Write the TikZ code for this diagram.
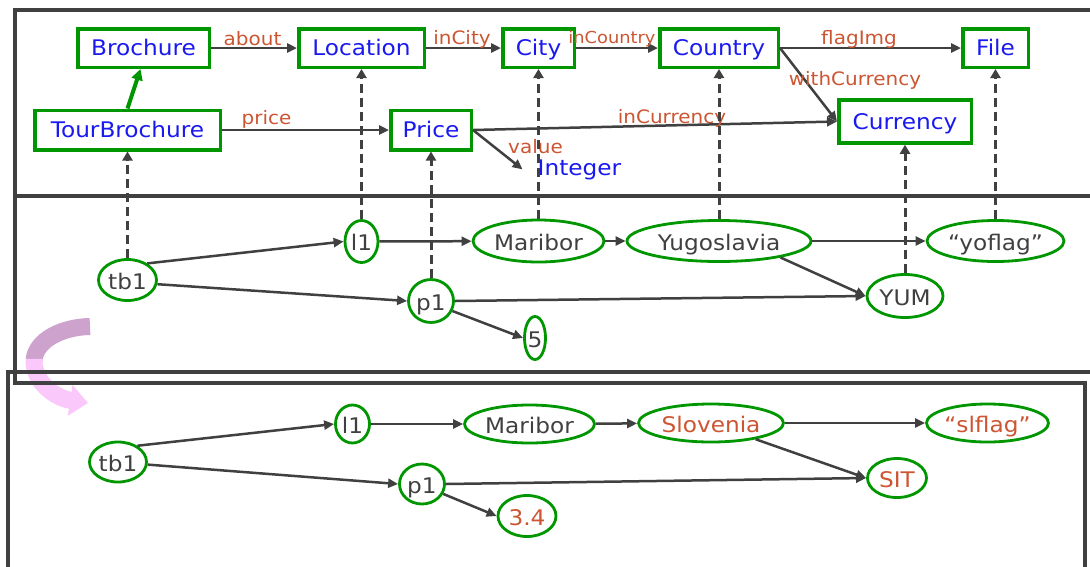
\documentclass[tikz,border=0pt]{standalone}
\usepackage{fontspec}
\setmainfont{DejaVu Sans}[FakeStretch=1.08]
\usetikzlibrary{shapes.geometric,arrows.meta}

\definecolor{boxgreen}{RGB}{0,150,0}
\definecolor{clsblue}{RGB}{25,25,240}
\definecolor{lblred}{RGB}{205,85,50}
\definecolor{inkgray}{RGB}{64,64,64}
\definecolor{lilac}{RGB}{205,162,205}
\definecolor{pinkish}{RGB}{250,200,250}

\newcommand{\nodefont}{\fontsize{21.5}{24}\selectfont}
\newcommand{\lblfont}{\fontsize{18.5}{21}\selectfont}
\newcommand{\smlblfont}{\fontsize{16.5}{19}\selectfont}

\begin{document}
\begin{tikzpicture}[x=1pt,y=-1pt,
  cls/.style={draw=boxgreen, line width=3.5pt, text=clsblue, font=\nodefont,
    inner sep=0pt, text height=20pt, text depth=4.4pt, minimum height=38.5pt},
  inst/.style={ellipse, draw=boxgreen, line width=2.8pt, text=inkgray,
    font=\nodefont, inner xsep=-12pt, inner ysep=-14pt,
    text height=22pt, text depth=4pt},
  newval/.style={text=lblred},
  lbl/.style={text=lblred, font=\lblfont, inner sep=0pt, anchor=base},
  rel/.style={draw=inkgray, line width=2.5pt, -{Triangle[length=10pt,width=9pt]}},
  typeof/.style={draw=inkgray, line width=3pt, dash pattern=on 9pt off 5pt,
    -{Triangle[length=9pt,width=10pt]}},
  subcls/.style={draw=boxgreen, line width=4pt, -{Triangle[length=11pt,width=11pt]}},
  frame/.style={draw=inkgray, line width=3.5pt}
]
\useasboundingbox (0,0) rectangle (1090,566);
\clip (0,0) rectangle (1090,566);
\fill[white] (0,0) rectangle (1090,566);

% curved change arrow between the two states
\draw[lilac, line width=17pt] (90,326.5) .. controls (62,327) and (36,340) .. (34,360);
\draw[pinkish, line width=17pt, -{Triangle[length=18pt,width=30pt]}]
  (34,359) .. controls (33,382) and (55,398) .. (88,403);

% frames
\draw[frame] (1100,10) -- (15,10) -- (15,383) -- (1085,383) -- (1085,600);
\draw[frame] (15,196) -- (1100,196);
\draw[frame] (8,600) -- (8,372) -- (1100,372);

% schema classes
\node[cls, minimum width=131.5pt] (Brochure) at (143.5,48) {Brochure};
\node[cls, minimum width=125.5pt] (Location) at (361.5,48) {Location};
\node[cls, minimum width=71.5pt] (City) at (538.5,48) {City};
\node[cls, minimum width=118.5pt] (Country) at (719,48) {Country};
\node[cls, minimum width=65.5pt] (File) at (995.5,48) {File};
\node[cls, minimum width=185.5pt, minimum height=39.5pt] (TourBrochure) at (127.5,130) {TourBrochure};
\node[cls, minimum width=80.5pt, minimum height=39.5pt] (Price) at (431,130) {Price};
\node[cls, minimum width=132.5pt, minimum height=43pt] (Currency) at (905,121.5) {Currency};
\node[text=clsblue, font=\nodefont, anchor=base, inner ysep=0pt, inner xsep=15pt] (Integer) at (579.5,175) {Integer};

% schema properties
\draw[rel] (Brochure) -- (Location);
\draw[rel] (Location) -- (City);
\draw[rel] (City) -- (Country);
\draw[rel] (Country) -- (File);
\draw[rel] (Country.east) -- (Currency.west);
\draw[rel] (TourBrochure) -- (Price);
\draw[rel] (Price.east) -- (Currency.west);
\draw[rel] (Price.east) -- (Integer.west);
\draw[subcls] (TourBrochure.north) -- ([xshift=-3pt]Brochure.south);

\node[lbl] (labout) at (252.5,45) {about};
\node[lbl] (lincity) at (462,44) {inCity};
\node[lbl, font=\smlblfont] (lincountry) at (612,43) {inCountry};
\node[lbl] (lflag) at (859,44) {flagImg};
\node[lbl] (lwithcur) at (855,85) {withCurrency};
\node[lbl] (lprice) at (266.5,124) {price};
\node[lbl] (lincur) at (672,123) {inCurrency};
\node[lbl] (lvalue) at (535.5,153) {value};

% instance data, before the change
\node[inst, minimum width=58pt, minimum height=41pt] (tb1) at (127.5,280) {tb1};
\node[inst, minimum width=33pt, minimum height=42pt] (l1) at (361.5,241.5) {l1};
\node[inst, minimum width=131pt, minimum height=42pt] (Maribor) at (538.5,241) {Maribor};
\node[inst, minimum width=184pt, minimum height=41pt] (Yugoslavia) at (719,241) {Yugoslavia};
\node[inst, minimum width=137pt, minimum height=41pt] (yoflag) at (995.5,241) {“yoflag”};
\node[inst, minimum width=45pt, minimum height=43pt] (p1) at (431,301) {p1};
\node[inst, minimum width=76pt, minimum height=43pt] (YUM) at (905,296) {YUM};
\node[inst, minimum width=21pt, minimum height=43pt] (five) at (535,338) {5};

\draw[rel] (tb1.40) -- (l1.west);
\draw[rel] (tb1.-8) -- (p1.west);
\draw[rel] (l1) -- (Maribor);
\draw[rel] (Maribor) -- (Yugoslavia);
\draw[rel] (Yugoslavia) -- (yoflag);
\draw[rel] (Yugoslavia.-15) -- (YUM.west);
\draw[rel] (p1.east) -- (YUM.west);
\draw[rel] (p1.-25) -- (five.west);

% typing links
\draw[typeof] (tb1) -- (TourBrochure);
\draw[typeof] (l1) -- (Location);
\draw[typeof] (p1) -- (Price);
\draw[typeof] (Maribor) -- (City);
\draw[typeof] (Yugoslavia) -- (Country);
\draw[typeof] (YUM) -- (Currency);
\draw[typeof] (yoflag) -- (File);

% instance data, after the change
\node[inst, minimum width=57pt, minimum height=40pt] (tb1b) at (118,462) {tb1};
\node[inst, minimum width=34pt, minimum height=38pt] (l1b) at (352.5,424) {l1};
\node[inst, minimum width=130pt, minimum height=38pt] (Mariborb) at (529.5,424) {Maribor};
\node[inst, newval, minimum width=145pt, minimum height=38pt] (Slovenia) at (711,423) {Slovenia};
\node[inst, newval, minimum width=122pt, minimum height=38pt] (slflag) at (987.5,423) {“slflag”};
\node[inst, minimum width=45pt, minimum height=40pt] (p1b) at (422,484) {p1};
\node[inst, newval, minimum width=59pt, minimum height=39pt] (SIT) at (897,478) {SIT};
\node[inst, newval, minimum width=58pt, minimum height=41pt] (threefour) at (527,516) {3.4};

\draw[rel] (tb1b.40) -- (l1b.west);
\draw[rel] (tb1b.-5) -- (p1b.west);
\draw[rel] (l1b) -- (Mariborb);
\draw[rel] (Mariborb) -- (Slovenia);
\draw[rel] (Slovenia) -- (slflag);
\draw[rel] (Slovenia.-20) -- (SIT.west);
\draw[rel] (p1b.east) -- (SIT.west);
\draw[rel] (p1b.-25) -- (threefour.west);
\end{tikzpicture}
\end{document}
